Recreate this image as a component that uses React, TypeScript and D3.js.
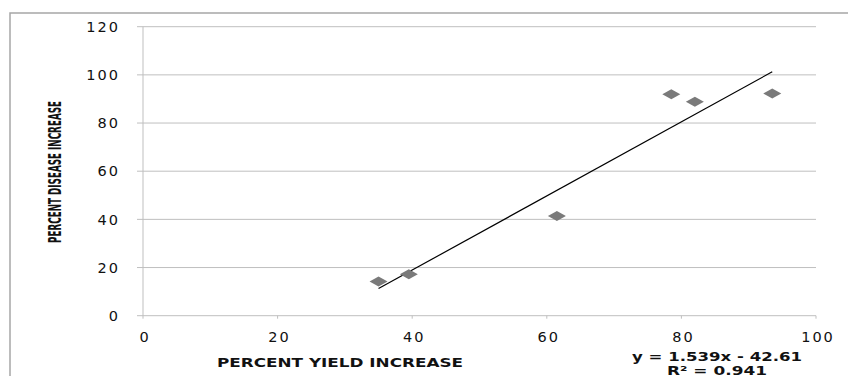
import React, { useEffect, useRef } from 'react';
import * as d3 from 'd3';

// values
const yieldIncrease = [35, 39.5, 61.5, 78.5, 82, 93.5];
const diseaseIncrease = [14.2, 17.2, 41.4, 92, 88.8, 92.3];
const xTicks = [0, 20, 40, 60, 80, 100];
const yTicks = [0, 20, 40, 60, 80, 100, 120];
const slope = 1.539;
const intercept = -42.61;
const rSquared = '0.941';

const App = () => {
  const ref = useRef(null);

  useEffect(() => {
    if (!ref.current) return;
    const width = 848;
    const height = 376;
    d3.select(ref.current).selectAll('*').remove();

    const svg = d3.select(ref.current)
      .append('svg')
      .attr('width', width)
      .attr('height', height)
      .style('position', 'absolute')
      .style('left', 0)
      .style('top', 0)
      .style('background', '#fff');

    // outer chart frame (runs off the right and bottom edge)
    svg.append('rect')
      .attr('x', 10)
      .attr('y', 13)
      .attr('width', 900)
      .attr('height', 400)
      .attr('fill', 'none')
      .attr('stroke', '#a6a6a6')
      .attr('stroke-width', 1.5);

    const x = d3.scaleLinear().domain([0, 100]).range([143, 816]);
    const y = d3.scaleLinear().domain([0, 120]).range([315.7, 26.7]);

    // horizontal gridlines with left tick stubs
    svg.append('g')
      .selectAll('line')
      .data(yTicks)
      .enter().append('line')
      .attr('x1', 137)
      .attr('x2', x(100))
      .attr('y1', d => y(d))
      .attr('y2', d => y(d))
      .attr('stroke', '#bfbfbf')
      .attr('stroke-width', 1);

    // y axis line
    svg.append('line')
      .attr('x1', x(0)).attr('x2', x(0))
      .attr('y1', y(120)).attr('y2', y(0) + 3)
      .attr('stroke', '#bfbfbf')
      .attr('stroke-width', 1);

    // x tick marks
    svg.append('g')
      .selectAll('line')
      .data(xTicks.slice(1))
      .enter().append('line')
      .attr('x1', d => x(d)).attr('x2', d => x(d))
      .attr('y1', y(0)).attr('y2', y(0) + 3)
      .attr('stroke', '#bfbfbf');

    const tickFont = 'DejaVu Sans, Verdana, sans-serif';

    svg.append('g')
      .selectAll('text')
      .data(yTicks)
      .enter().append('text')
      .attr('x', 120)
      .attr('y', d => y(d))
      .attr('dy', '0.36em')
      .attr('text-anchor', 'end')
      .style('font-family', tickFont)
      .style('font-size', '14.5px')
      .style('letter-spacing', '2px')
      .style('fill', '#111')
      .text(d => d);

    svg.append('g')
      .selectAll('text')
      .data(xTicks)
      .enter().append('text')
      .attr('x', d => x(d) + 2)
      .attr('y', 337)
      .attr('dy', '0.36em')
      .attr('text-anchor', 'middle')
      .style('font-family', tickFont)
      .style('font-size', '14.5px')
      .style('letter-spacing', '2px')
      .style('fill', '#111')
      .text(d => d);

    // trendline
    const xMin = d3.min(yieldIncrease);
    const xMax = d3.max(yieldIncrease);
    svg.append('line')
      .attr('x1', x(xMin)).attr('y1', y(slope * xMin + intercept))
      .attr('x2', x(xMax)).attr('y2', y(slope * xMax + intercept))
      .attr('stroke', '#000')
      .attr('stroke-width', 1.2);

    // diamond markers
    svg.append('g')
      .selectAll('path')
      .data(yieldIncrease.map((v, i) => [v, diseaseIncrease[i]]))
      .enter().append('path')
      .attr('d', 'M-9,0L0,-5L9,0L0,5Z')
      .attr('transform', d => `translate(${x(d[0])},${y(d[1])})`)
      .attr('fill', '#7a7a7a');

    // axis titles
    svg.append('text')
      .attr('transform', `translate(55,${172}) rotate(-90)`)
      .attr('text-anchor', 'middle')
      .attr('dy', '0.36em')
      .style('font-family', 'DejaVu Sans Condensed, Liberation Sans Narrow, sans-serif')
      .style('font-weight', 'bold')
      .style('font-size', '18px')
      .attr('textLength', 142)
      .attr('lengthAdjust', 'spacingAndGlyphs')
      .style('fill', '#111')
      .text('PERCENT DISEASE INCREASE');

    svg.append('text')
      .attr('x', 340)
      .attr('y', 363)
      .attr('dy', '0.36em')
      .attr('text-anchor', 'middle')
      .style('font-family', tickFont)
      .style('font-weight', 'bold')
      .style('font-size', '12px')
      .attr('textLength', 246)
      .attr('lengthAdjust', 'spacingAndGlyphs')
      .style('fill', '#111')
      .text('PERCENT YIELD INCREASE');

    // regression label
    svg.append('text')
      .attr('x', 717)
      .attr('y', 356)
      .attr('dy', '0.36em')
      .attr('text-anchor', 'middle')
      .style('font-family', tickFont)
      .style('font-weight', 'bold')
      .style('font-size', '12.5px')
      .attr('textLength', 170)
      .attr('lengthAdjust', 'spacingAndGlyphs')
      .style('fill', '#111')
      .text(`y = ${slope}x - ${Math.abs(intercept)}`);

    svg.append('text')
      .attr('x', 717)
      .attr('y', 370)
      .attr('dy', '0.36em')
      .attr('text-anchor', 'middle')
      .style('font-family', tickFont)
      .style('font-weight', 'bold')
      .style('font-size', '12.5px')
      .attr('textLength', 100)
      .attr('lengthAdjust', 'spacingAndGlyphs')
      .style('fill', '#111')
      .text(`R² = ${rSquared}`);
  }, []);

  return <div ref={ref} />;
};

export default App;
